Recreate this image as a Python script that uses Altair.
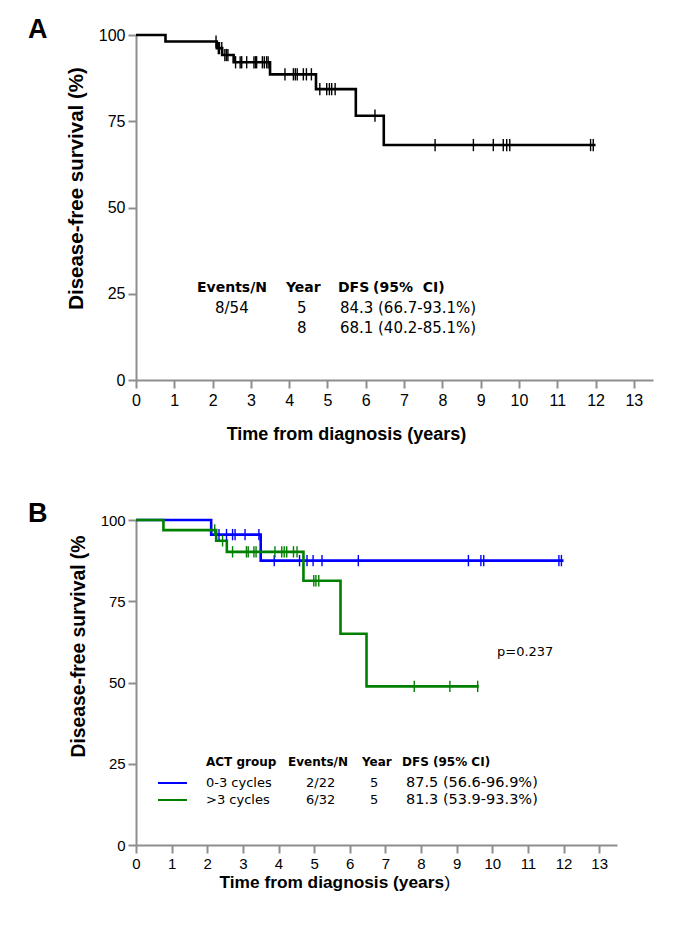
import altair as alt
import pandas as pd

# ---------------- Panel A: whole cohort ----------------
a_event_times = [0.77, 2.11, 2.25, 2.55, 3.50, 4.70, 5.74, 6.47]
a_event_surv = [98.1, 96.2, 94.2, 92.1, 88.6, 84.3, 76.6, 68.1]
a_last_followup = 12.0
a_censor_times = [2.09, 2.15, 2.18, 2.24, 2.32, 2.36, 2.40, 2.60, 2.72, 2.76,
                  2.89, 3.08, 3.12, 3.15, 3.30, 3.35, 3.41, 3.45, 3.89, 4.11,
                  4.16, 4.21, 4.37, 4.45, 4.58, 4.80, 4.98, 5.05, 5.11, 5.20,
                  6.24, 7.81, 8.81, 9.33, 9.59, 9.68, 9.76, 11.87, 11.94]

a_table_header = ["Events/N", "Year", "DFS", "(95%\u00a0\u00a0CI)"]
a_table_events = ["8/54", ""]
a_table_years = ["5", "8"]
a_table_dfs = ["84.3", "68.1"]
a_table_ci = ["(66.7-93.1%)", "(40.2-85.1%)"]

# ---------------- Panel B: by ACT group ----------------
b_groups = ["0-3 cycles", ">3 cycles"]
b_colors = ["#0000ff", "#008000"]
b_event_times = [[2.11, 3.50], [0.77, 2.25, 2.55, 4.70, 5.74, 6.47]]
b_event_surv = [[95.5, 87.5], [96.9, 93.6, 90.2, 81.3, 65.0, 48.8]]
b_last_followup = [12.0, 9.62]
b_censor_times = [
    [2.33, 2.54, 2.71, 2.78, 3.06, 3.45, 3.88, 4.59, 4.80, 4.97, 5.22, 6.24,
     9.33, 9.68, 9.76, 11.87, 11.94],
    [2.21, 2.43, 2.71, 3.10, 3.15, 3.31, 3.37, 3.90, 4.09, 4.16, 4.23, 4.42,
     4.52, 4.99, 5.05, 5.13, 7.81, 8.81, 9.59],
]
b_table_header = ["ACT group", "Events/N", "Year", "DFS (95% CI)"]
b_table_events = ["2/22", "6/32"]
b_table_years = ["5", "5"]
b_table_dfs = ["87.5 (56.6-96.9%)", "81.3 (53.9-93.3%)"]
b_x_title = ["Time from diagnosis (years", ")"]
p_value_text = "p=0.237"

x_ticks = list(range(0, 14))
y_ticks = [0, 25, 50, 75, 100]
X_MAX = 13.5
W_A, H_A = 517, 345
W_B, H_B = 481, 325
AXIS_GREY = "#8e8e8e"
SANS = "Liberation Sans"
TABLE_FONT = "DejaVu Sans"


def km_steps(times, surv, last):
    rows = [(0.0, 100.0)] + list(zip(times, surv)) + [(last, surv[-1])]
    return pd.DataFrame(rows, columns=["t", "s"])


def km_censors(times, event_times, surv):
    out = []
    for c in times:
        level = 100.0
        for et, s in zip(event_times, surv):
            if et <= c:
                level = s
        out.append((c, level))
    return pd.DataFrame(out, columns=["t", "s"])


def axis_style(f):
    return dict(grid=False, domainColor=AXIS_GREY, domainWidth=2,
                tickColor=AXIS_GREY, tickWidth=2, tickSize=round(8 * f),
                labelFont=SANS, labelFontSize=round(16 * f, 1),
                labelColor="black", labelOverlap=False, labelSeparation=0,
                titleFont=SANS, titleFontWeight="bold", titleColor="black")


def x_enc(f, title=None, title_x=0, title_pad=0):
    extra = {}
    if title:
        extra = dict(title=title, titleX=title_x, titleFontSize=round(18 * f, 1),
                     titlePadding=title_pad)
    else:
        extra = dict(title=None)
    return alt.X("t:Q", scale=alt.Scale(domain=[0, X_MAX], nice=False),
                 axis=alt.Axis(values=x_ticks, tickCount=14, labelPadding=4 * f,
                               labelFlush=False, **extra, **axis_style(f)))


def y_enc(title, f, title_y, title_size, title_pad):
    return alt.Y("s:Q", scale=alt.Scale(domain=[0, 100], nice=False),
                 axis=alt.Axis(values=y_ticks, labelPadding=3 * f, title=title,
                               titleY=title_y, titleFontSize=title_size,
                               titlePadding=title_pad, **axis_style(f)))


def text_item(txt, px, py, size, weight="normal", font=TABLE_FONT, align="left"):
    return alt.Chart(pd.DataFrame({"label": [txt]})).mark_text(
        align=align, baseline="middle", font=font, fontSize=size,
        fontWeight=weight, color="black"
    ).encode(x=alt.value(px), y=alt.value(py), text="label:N")


def censor_layer(df, color, size, x, y):
    return alt.Chart(df).mark_point(
        shape="M0,-1L0,1", size=size, strokeWidth=1.4, color=color, opacity=1
    ).encode(x=x, y=y)


# ---- panel A ----
xa = x_enc(1.0, "Time from diagnosis (years)", 210, 17)
ya = y_enc("Disease-free survival (%)", 1.0, 153, 20.5, 12)
a_curve = alt.Chart(km_steps(a_event_times, a_event_surv, a_last_followup)).mark_line(
    interpolate="step-after", color="black", strokeWidth=2.6
).encode(x=xa, y=ya)
a_marks = censor_layer(km_censors(a_censor_times, a_event_times, a_event_surv),
                       "black", 150, xa, ya)

a_texts = [text_item("A", -108, -5, 27, "bold", SANS)]
for h, px in zip(a_table_header, [61, 150, 202, 237]):
    a_texts.append(text_item(h, px, 253, 14, "bold"))
for i, py in enumerate([273, 293]):
    if a_table_events[i]:
        a_texts.append(text_item(a_table_events[i], 79, py, 15))
    a_texts.append(text_item(a_table_years[i], 161, py, 15))
    a_texts.append(text_item(a_table_dfs[i], 204, py, 15))
    a_texts.append(text_item(a_table_ci[i], 242, py, 15))

panel_a = alt.layer(a_curve, a_marks, *a_texts).properties(width=W_A, height=H_A)

# ---- panel B ----
SB = 0.94
xb = x_enc(SB)
yb = y_enc("Disease-free survival (%", SB, 126, 19.3, 12)
b_layers = []
for g in range(2):
    steps = km_steps(b_event_times[g], b_event_surv[g], b_last_followup[g])
    b_layers.append(alt.Chart(steps).mark_line(
        interpolate="step-after", color=b_colors[g], strokeWidth=2.6
    ).encode(x=xb, y=yb))
for g in range(2):
    cens = km_censors(b_censor_times[g], b_event_times[g], b_event_surv[g])
    b_layers.append(censor_layer(cens, b_colors[g], 130, xb, yb))

b_texts = [text_item("B", -108, -6, 27, "bold", SANS),
           text_item(p_value_text, 361, 132, 13),
           text_item(b_x_title[0], 308, 363, 17.3, "bold", SANS, "right"),
           text_item(b_x_title[1], 308.5, 363, 17.3, "normal", SANS, "left")]
for h, px in zip(b_table_header, [70, 152, 226, 266]):
    b_texts.append(text_item(h, px, 242, 12, "bold"))
for i, py in enumerate([263, 280]):
    b_texts.append(alt.Chart(pd.DataFrame({"g": [b_groups[i]]})).mark_rule(
        color=b_colors[i], strokeWidth=2
    ).encode(x=alt.value(22), x2=alt.value(51), y=alt.value(py)))
    b_texts.append(text_item(b_groups[i], 70, py, 13))
    b_texts.append(text_item(b_table_events[i], 170, py, 13))
    b_texts.append(text_item(b_table_years[i], 234, py, 13))
    b_texts.append(text_item(b_table_dfs[i], 270, py, 14.5))

panel_b = alt.layer(*b_layers, *b_texts).properties(width=W_B, height=H_B)

chart = alt.vconcat(panel_a, panel_b, spacing=140, bounds="flush").properties(
    padding={"left": 28, "top": 16, "right": 20, "bottom": 20},
    background="white",
).configure_view(stroke=None).configure_axis(labelOverlap=False)

chart.save("out.html", embed_options={"renderer": "svg", "actions": False})
